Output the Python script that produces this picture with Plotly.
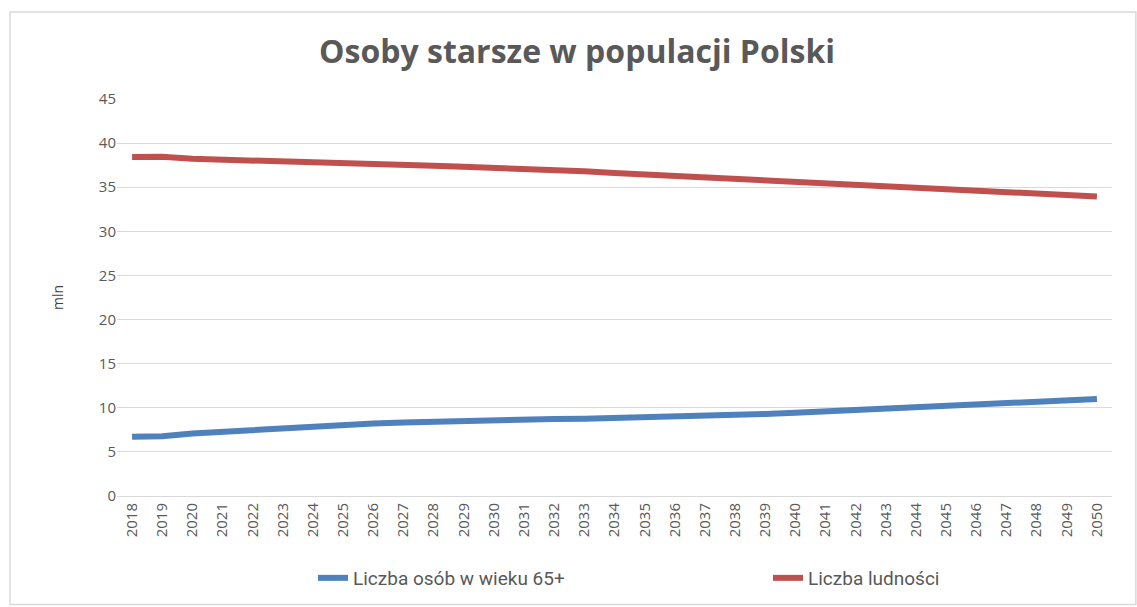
import plotly.graph_objects as go

years = [str(y) for y in range(2018, 2051)]
seniors_65 = [6.72, 6.78, 7.08, 7.28, 7.5, 7.72, 7.92, 8.08, 8.22, 8.34, 8.44, 8.53, 8.62,
              8.68, 8.72, 8.75, 8.82, 8.9, 8.97, 9.05, 9.15, 9.3, 9.45, 9.62, 9.76,
              9.9, 10.06, 10.2, 10.34, 10.5, 10.68, 10.87, 11.0]
population = [38.43, 38.45, 38.22, 38.1, 38.0, 37.92, 37.83, 37.72, 37.62, 37.52, 37.42,
              37.32, 37.22, 37.1, 36.95, 36.8, 36.6, 36.44, 36.28, 36.12, 35.96, 35.8,
              35.65, 35.5, 35.34, 35.18, 35.02, 34.86, 34.7, 34.55, 34.39, 34.18, 33.95]

series_names = ["Liczba osób w wieku 65+", "Liczba ludności"]
colors = ["#4F81BD", "#C0504D"]
legend_ids = ["legend", "legend2"]

fig = go.Figure()
for name, vals, col, lg in zip(series_names, [seniors_65, population], colors, legend_ids):
    fig.add_trace(go.Scatter(x=years, y=vals, mode="lines", name=name, legend=lg,
                             line=dict(color=col, width=6)))

grey = "#595959"
legend_font = dict(family="Liberation Sans Narrow, Roboto, sans-serif",
                   size=19, color=grey)
fig.update_layout(
    width=1137, height=607,
    paper_bgcolor="white", plot_bgcolor="white",
    margin=dict(l=117, r=25, t=99, b=111),
    title=dict(text="<b>Osoby starsze w populacji Polski</b>", x=577 / 1137, xanchor="center",
               xref="container", y=1 - 52 / 607, yref="container", yanchor="middle",
               font=dict(family="Open Sans, sans-serif", size=32, color=grey)),
    font=dict(family="Open Sans, sans-serif", color=grey),
    legend=dict(orientation="h", xref="container", yref="container",
                x=313 / 1137, xanchor="left", y=1 - 578 / 607, yanchor="middle",
                bgcolor="rgba(0,0,0,0)", font=legend_font),
    legend2=dict(orientation="h", xref="container", yref="container",
                 x=768 / 1137, xanchor="left", y=1 - 578 / 607, yanchor="middle",
                 bgcolor="rgba(0,0,0,0)", font=legend_font),
    showlegend=True,
)
fig.update_xaxes(type="category", range=[-0.5, 32.5], tickangle=-90, automargin=False,
                 tickfont=dict(size=15, color=grey), showgrid=False,
                 showline=True, linecolor="#d9d9d9", linewidth=1, ticks="")
fig.update_yaxes(range=[0, 45], dtick=5, tick0=0, showgrid=True, gridcolor="#d9d9d9",
                 gridwidth=1, zeroline=False, automargin=False,
                 tickfont=dict(size=15, color=grey),
                 title=dict(text="mln", font=dict(size=14, color="#404040"), standoff=31),
                 showline=False)
fig.add_shape(type="rect", xref="paper", yref="paper",
              x0=-0.1075, x1=1.024, y0=-0.273, y1=1.219,
              line=dict(color="#d9d9d9", width=1.5), layer="below")
fig.write_html("out.html", config={"displayModeBar": False},
               post_script="document.body.style.margin='0';")
